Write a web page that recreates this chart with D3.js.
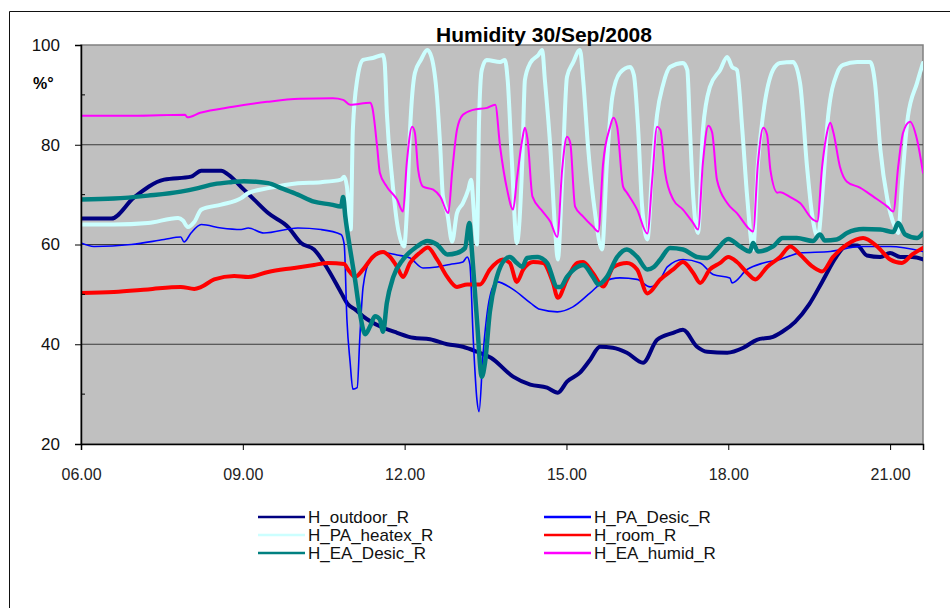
<!DOCTYPE html>
<html>
<head>
<meta charset="utf-8">
<script src="https://cdn.jsdelivr.net/npm/d3@7"></script>
<style>
  body { margin: 0; background: #fff; }
  svg { display: block; font-family: "Liberation Sans", Arial, sans-serif; }
</style>
</head>
<body>
<svg id="chart"></svg>
<script>
// Dimensions
const width = 950;
const height = 608;
const margin = { top: 45, right: 27, bottom: 164, left: 81 };

// Axes
const xTicks = [6, 9, 12, 15, 18, 21];
const xTickLabels = ["06.00", "09.00", "12.00", "15.00", "18.00", "21.00"];
const yTicks = [20, 40, 60, 80, 100];
const yTickLabels = ["20", "40", "60", "80", "100"];
const yMinorTicks = [30, 50, 70, 90];

// Series (hour, % humidity)
const outdoor = [[6.0,65.2],[6.56,65.2],[6.98,69.4],[7.54,73],[8.04,73.6],[8.23,74.8],[8.6,74.8],[8.73,74],[9.02,71],[9.21,69],[9.47,66.3],[9.84,63.5],[10.08,60.3],[10.32,59],[10.58,55],[10.82,50.4],[10.95,48],[11.08,47],[11.23,45.6],[11.54,43.6],[11.86,42.3],[12.16,41.3],[12.47,41],[12.79,40],[13.08,39.5],[13.34,38.5],[13.6,37.3],[14.01,33.5],[14.33,31.9],[14.64,31.3],[14.84,30.3],[15.01,32.5],[15.25,34.3],[15.44,36.9],[15.62,39.5],[15.86,39.3],[16.12,38.3],[16.42,36.3],[16.68,40.9],[16.98,42.3],[17.16,42.9],[17.42,39.5],[17.61,38.5],[17.98,38.3],[18.28,39.3],[18.53,40.9],[18.83,41.5],[19.0,42.5],[19.24,44.5],[19.5,48],[19.74,52.5],[20.0,57.5],[20.2,59.8],[20.39,59.8],[20.57,57.8],[20.82,57.5],[21.0,58.3],[21.19,57.5],[21.41,57.5],[21.61,57]];

const paDesic = [[6.0,60.3],[6.24,59.6],[6.93,60],[7.54,61],[7.85,61.5],[7.91,60.5],[8.04,62.3],[8.23,64],[8.6,63.3],[8.97,63],[9.1,63.3],[9.39,62.3],[10.02,63.3],[10.45,63],[10.82,62],[10.88,60],[10.93,44.9],[10.99,36.3],[11.04,31],[11.12,31.3],[11.17,41.5],[11.23,51.5],[11.36,57],[11.54,58.5],[11.86,57.9],[12.1,57.3],[12.34,55.3],[12.6,55.5],[12.84,56],[13.08,56.5],[13.16,57.5],[13.21,56],[13.27,41.5],[13.34,28.9],[13.38,26.5],[13.45,37.5],[13.58,49.5],[13.71,52.5],[14.01,51],[14.33,48.3],[14.51,47],[14.83,46.5],[15.12,47.5],[15.44,50.3],[15.68,52.5],[15.99,53.3],[16.31,53],[16.55,51.5],[16.74,53],[16.87,55.5],[17.16,57],[17.48,56.3],[17.72,54],[18.03,53.3],[18.07,52.3],[18.35,55],[18.65,56.3],[18.96,57],[19.33,58.3],[19.89,58.6],[20.44,59.6],[21.0,59.6],[21.61,58.6]];

const paHeatex = [[6.0,64],[6.61,64],[7.24,64.3],[7.8,65.3],[7.89,64.8],[7.98,63.5],[8.1,64.5],[8.23,67],[8.6,68],[8.97,69.3],[9.1,70.3],[9.47,71.3],[10.02,72.3],[10.45,72.5],[10.82,73],[10.88,73.6],[10.93,71.6],[11.0,63],[11.04,83],[11.12,93],[11.23,97],[11.41,97.4],[11.6,98],[11.63,96.4],[11.67,86.4],[11.77,73],[11.86,64.3],[11.99,59.6],[12.04,66.3],[12.1,83],[12.19,94.4],[12.3,97],[12.42,99],[12.5,97.5],[12.6,89.6],[12.66,79.6],[12.71,69.6],[12.79,66.3],[12.88,60.6],[12.97,66.3],[13.08,68.3],[13.18,71],[13.23,73],[13.3,64],[13.34,60],[13.38,85],[13.43,95],[13.52,97],[13.77,96.6],[13.86,97],[13.91,93],[13.99,76.3],[14.08,60.3],[14.18,76.3],[14.23,93],[14.33,96.4],[14.48,98],[14.55,99],[14.6,93],[14.7,79.6],[14.79,63],[14.84,57],[14.92,73],[15.01,93.6],[15.12,96.4],[15.25,99],[15.31,93],[15.4,79.6],[15.53,66.3],[15.66,59],[15.75,76.3],[15.85,89.6],[15.99,94.4],[16.18,95.6],[16.25,94],[16.33,83],[16.4,68],[16.5,61],[16.59,75],[16.68,86],[16.79,92],[16.92,95.6],[17.16,96.4],[17.24,95],[17.29,83],[17.35,69.6],[17.44,62.3],[17.53,83],[17.66,91.6],[17.85,95],[17.98,97.6],[18.07,95.6],[18.16,95],[18.26,83],[18.35,69.6],[18.46,59],[18.55,76.3],[18.65,86.4],[18.83,95],[18.96,96.4],[19.2,96.6],[19.33,92.4],[19.46,75.6],[19.55,66.3],[19.66,61.5],[19.76,72.3],[19.85,85.6],[20.02,94.4],[20.13,96],[20.39,96.6],[20.63,96.6],[20.72,92.4],[20.82,79],[20.95,69],[21.09,63.5],[21.15,62.3],[21.22,72.3],[21.33,85.6],[21.5,92.4],[21.61,96.4]];

const room = [[6.0,50.3],[6.61,50.5],[7.24,51],[7.85,51.5],[8.1,51.1],[8.23,51.5],[8.47,53],[8.84,53.7],[9.1,53.5],[9.47,54.5],[9.95,55.3],[10.32,55.9],[10.58,56.3],[10.88,56.1],[10.95,55],[11.08,53.5],[11.23,55],[11.41,57.5],[11.6,58.5],[11.73,57.5],[11.86,55.5],[11.97,53.5],[12.1,56.3],[12.29,58.4],[12.43,59.4],[12.6,57],[12.79,53.5],[12.97,51.5],[13.16,52],[13.4,52],[13.58,55],[13.82,57],[13.95,56.3],[14.08,52.5],[14.2,55],[14.38,56.5],[14.57,56.3],[14.75,52.3],[14.84,49.3],[15.01,53],[15.2,56.3],[15.31,56.5],[15.49,54.3],[15.68,51.6],[15.87,55.5],[16.12,56.3],[16.31,55],[16.5,50.2],[16.74,53],[16.98,55],[17.16,56.5],[17.35,54.3],[17.48,52.3],[17.66,55],[17.85,56.3],[18.0,57.5],[18.16,56.5],[18.35,54.3],[18.5,53],[18.72,55.5],[18.96,57.5],[19.15,59.6],[19.33,58],[19.57,55.5],[19.74,54.6],[19.94,57.5],[20.2,60],[20.5,61.3],[20.76,59.6],[21.0,57],[21.22,56.3],[21.41,58],[21.61,59.3]];

const eaDesic = [[6.0,69],[6.61,69.2],[7.24,69.8],[7.85,70.6],[8.17,71.3],[8.47,72.1],[8.78,72.5],[9.02,72.7],[9.47,72.3],[9.71,71.3],[10.02,70],[10.32,68.6],[10.64,68],[10.82,67.6],[10.86,69.5],[10.9,65.6],[10.99,59],[11.08,53],[11.17,46.3],[11.27,42],[11.36,43.6],[11.45,45.6],[11.54,45],[11.6,42.5],[11.67,48.3],[11.79,53.5],[11.97,57],[12.23,59.6],[12.42,60.7],[12.6,60],[12.79,58],[12.97,58.3],[13.12,59.3],[13.2,64.3],[13.25,58.3],[13.34,45],[13.43,33.5],[13.49,36.3],[13.58,46.5],[13.71,53.5],[13.86,57],[13.95,57.5],[14.08,56.3],[14.18,55.5],[14.27,57.3],[14.46,57.5],[14.64,56.3],[14.83,51.5],[14.89,51.5],[15.01,53.5],[15.2,55.5],[15.31,55.9],[15.49,53.5],[15.59,52],[15.75,53.5],[15.94,57.5],[16.12,59],[16.31,57.5],[16.5,55],[16.62,55.5],[16.74,57],[16.92,59.3],[17.16,59],[17.42,57.5],[17.61,57.3],[17.79,59],[18.0,61.1],[18.22,59.6],[18.4,58.6],[18.46,60.3],[18.55,58.6],[18.83,59.6],[19.01,61.3],[19.27,61.3],[19.57,60.7],[19.7,62],[19.79,60.8],[20.01,61],[20.2,62.3],[20.5,63.1],[20.82,63],[21.06,62.5],[21.15,64.3],[21.28,62],[21.5,61.3],[21.61,62.3]];

const eaHumid = [[6.0,85.8],[6.96,85.8],[7.93,86],[7.97,85.5],[8.21,86.4],[8.82,87.6],[9.45,88.6],[10.06,89.2],[10.67,89.3],[10.86,89],[10.99,88],[11.36,88.4],[11.4,87.5],[11.49,79.6],[11.54,74.4],[11.67,71.6],[11.86,69],[11.97,66.6],[12.04,76.4],[12.14,83.6],[12.19,82.4],[12.25,75],[12.34,71.6],[12.53,71],[12.66,69.6],[12.81,66.3],[12.88,74.4],[12.97,83],[13.08,86],[13.27,87],[13.53,87.4],[13.68,88],[13.77,79.6],[13.9,71],[14.01,67],[14.08,73],[14.18,81],[14.23,83.4],[14.28,81],[14.37,69.6],[14.56,66.6],[14.7,64.6],[14.83,61.5],[14.92,75],[15.01,81.6],[15.07,80.4],[15.16,67.6],[15.31,65.6],[15.49,63.6],[15.59,62.6],[15.68,76.3],[15.81,83.6],[15.87,85.4],[15.94,83.6],[16.05,71.6],[16.12,70.4],[16.31,67],[16.5,62.2],[16.59,73],[16.68,83.6],[16.74,83],[16.83,74.4],[16.98,69],[17.16,67],[17.35,64.3],[17.44,63],[17.53,76.4],[17.63,83.8],[17.7,82.5],[17.79,73],[17.98,68.3],[18.16,66.3],[18.4,63],[18.46,62.6],[18.55,76.3],[18.65,83.4],[18.72,82],[18.78,75],[18.91,70.4],[18.96,70.5],[19.15,69.5],[19.33,68.3],[19.57,65],[19.65,64.6],[19.74,75.6],[19.83,82.4],[19.89,84.4],[19.95,82.4],[20.07,75.6],[20.2,72.6],[20.44,71.4],[20.69,69.6],[20.95,67.6],[21.06,66.6],[21.15,75.6],[21.24,82.4],[21.37,84.6],[21.5,81],[21.61,74.4]];

const seriesNames = ["H_outdoor_R", "H_PA_Desic_R", "H_PA_heatex_R", "H_room_R", "H_EA_Desic_R", "H_EA_humid_R"];
const seriesData = [outdoor, paDesic, paHeatex, room, eaDesic, eaHumid];
const seriesColors = ["#000080", "#0000ff", "#ccffff", "#ff0000", "#008080", "#ff00ff"];
const seriesWidths = [4, 1.6, 4, 4, 4.5, 2];

const svg = d3.select("#chart")
    .attr("width", width)
    .attr("height", height);

const x = d3.scaleLinear()
    .domain([6, 21.61])
    .range([margin.left, width - margin.right]);

const y = d3.scaleLinear()
    .domain([20, 100])
    .range([height - margin.bottom, margin.top]);

// cadre exterieur
svg.append("path")
    .attr("d", `M9.5,${height} V11.5 H${width}`)
    .attr("fill", "none")
    .attr("stroke", "#111")
    .attr("stroke-width", 1);

// fond du graphique
svg.append("rect")
    .attr("x", x(6))
    .attr("y", y(100))
    .attr("width", x(21.61) - x(6))
    .attr("height", y(20) - y(100))
    .attr("fill", "#c0c0c0")
    .attr("stroke", "#808080")
    .attr("stroke-width", 1.5);

// grille
svg.append("g")
    .selectAll("line")
    .data([40, 60, 80])
    .enter()
    .append("line")
    .attr("x1", x(6))
    .attr("x2", x(21.61))
    .attr("y1", d => y(d))
    .attr("y2", d => y(d))
    .attr("stroke", "#3a3a3a")
    .attr("stroke-width", 1.2);

// courbes
svg.append("clipPath")
    .attr("id", "plot-clip")
    .append("rect")
    .attr("x", x(6))
    .attr("y", y(100) - 2)
    .attr("width", x(21.61) - x(6))
    .attr("height", y(20) - y(100) + 2);

const line = d3.line()
    .curve(d3.curveMonotoneX)
    .x(d => x(d[0]))
    .y(d => y(d[1]));

const curves = svg.append("g").attr("clip-path", "url(#plot-clip)");
seriesData.forEach((data, i) => {
    curves.append("path")
        .datum(data)
        .attr("d", line)
        .attr("fill", "none")
        .attr("stroke", seriesColors[i])
        .attr("stroke-width", seriesWidths[i])
        .attr("stroke-linejoin", "round")
        .attr("stroke-linecap", "round");
});

// axe Y
const yAxis = d3.axisLeft(y)
    .tickValues(yTicks)
    .tickFormat((d, i) => yTickLabels[i])
    .tickSize(6)
    .tickPadding(15);

const gy = svg.append("g")
    .attr("transform", `translate(${x(6)},0)`)
    .call(yAxis);
gy.select(".domain").attr("stroke", "#000").attr("stroke-width", 1.5);
gy.selectAll(".tick line").attr("stroke", "#000");
gy.selectAll(".tick text")
    .attr("font-size", 17)
    .attr("fill", "#111")
    .attr("font-family", "Liberation Sans, Arial, sans-serif");

svg.append("g")
    .selectAll("line")
    .data(yMinorTicks)
    .enter()
    .append("line")
    .attr("x1", x(6))
    .attr("x2", x(6) + 4)
    .attr("y1", d => y(d))
    .attr("y2", d => y(d))
    .attr("stroke", "#000");

// axe X
const xAxis = d3.axisBottom(x)
    .tickValues(xTicks)
    .tickFormat((d, i) => xTickLabels[i])
    .tickSize(6)
    .tickPadding(19);

const gx = svg.append("g")
    .attr("transform", `translate(0,${y(20)})`)
    .call(xAxis);
gx.select(".domain").attr("stroke", "#000").attr("stroke-width", 1.5);
gx.selectAll(".tick line").attr("stroke", "#000");
gx.selectAll(".tick text")
    .attr("font-size", 16)
    .attr("fill", "#222")
    .attr("font-family", "Liberation Sans, Arial, sans-serif");

// titre
svg.append("text")
    .attr("x", 544)
    .attr("y", 42)
    .attr("text-anchor", "middle")
    .attr("font-size", 21)
    .attr("font-weight", "bold")
    .attr("fill", "#000")
    .text("Humidity 30/Sep/2008");

svg.append("text")
    .attr("x", 33)
    .attr("y", 89)
    .attr("font-size", 16)
    .attr("font-weight", "bold")
    .attr("fill", "#000")
    .text("%°");

// legende
const legend = svg.append("g");
seriesNames.forEach((name, i) => {
    const col = i % 2;
    const row = Math.floor(i / 2);
    const lx = col === 0 ? 258 : 544;
    const ly = 517 + row * 18;
    legend.append("line")
        .attr("x1", lx)
        .attr("x2", lx + 47)
        .attr("y1", ly)
        .attr("y2", ly)
        .attr("stroke", seriesColors[i])
        .attr("stroke-width", 2.5);
    legend.append("text")
        .attr("x", lx + 50)
        .attr("y", ly + 6)
        .attr("font-size", 17)
        .attr("fill", "#111")
        .text(name);
});
</script>
</body>
</html>
